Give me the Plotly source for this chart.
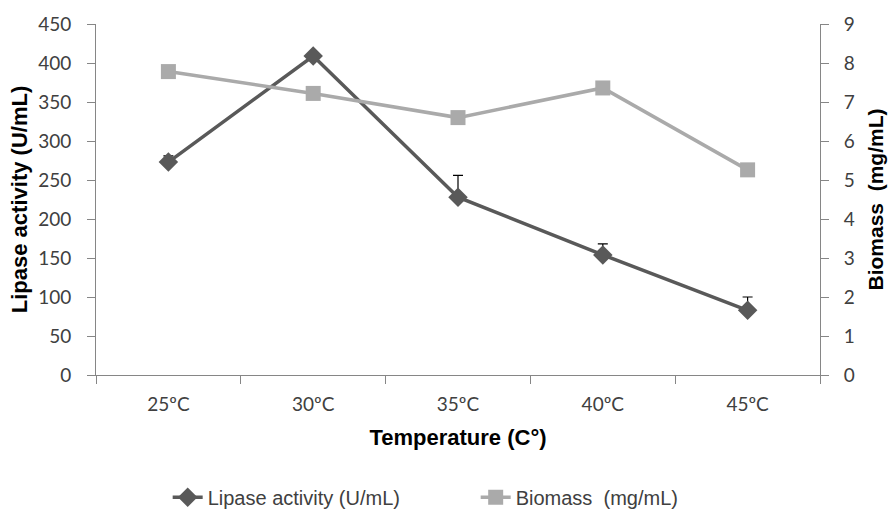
import plotly.graph_objects as go

categories = ["25ºC", "30ºC", "35ºC", "40ºC", "45ºC"]
lipase = [273, 409, 228, 154, 83]
lipase_err = [8, 4, 28, 14, 17]
biomass = [7.78, 7.22, 6.6, 7.36, 5.26]

fig = go.Figure()
fig.add_trace(go.Scatter(
    x=categories, y=biomass, name="Biomass  (mg/mL)", yaxis="y2",
    mode="lines+markers",
    line=dict(color="#aaaaaa", width=3.5),
    marker=dict(symbol="square", size=15, color="#aaaaaa"),
))
fig.add_trace(go.Scatter(
    x=categories, y=lipase, name="Lipase activity (U/mL)",
    mode="lines+markers",
    line=dict(color="#595959", width=3.5),
    marker=dict(symbol="diamond", size=15, color="#595959"),
    error_y=dict(type="data", array=lipase_err, arrayminus=[0]*5,
                 symmetric=False, color="#000000", thickness=1.2, width=5),
))

tickfont = dict(family="Lato, Open Sans, sans-serif", size=19, color="#404040")
ytitlefont = dict(family="Liberation Sans, Arial, sans-serif", size=22, color="#000000")
y2titlefont = dict(family="Liberation Sans, Arial, sans-serif", size=21, color="#000000")
xtitlefont = dict(family="Liberation Sans, Arial, sans-serif", size=22, color="#000000")

fig.update_layout(
    width=888, height=509,
    margin=dict(l=96, r=68, t=24, b=134, autoexpand=False),
    paper_bgcolor="white", plot_bgcolor="white",
    showlegend=True,
    legend=dict(orientation="h", x=0.099, xanchor="left", y=-0.348, yanchor="middle",
                font=dict(family="Liberation Sans, Arial, sans-serif", size=20, color="#404040"),
                traceorder="reversed", entrywidth=263, entrywidthmode="pixels"),
    xaxis=dict(
        type="category", showgrid=False, showline=True, linecolor="#868686", linewidth=1,
        ticks="outside", tickson="boundaries", ticklen=8, tickcolor="#868686",
        tickfont=tickfont, ticklabelstandoff=12, automargin=False,
        title=dict(text="<b>Temperature (C°)</b>", font=xtitlefont, standoff=15),
        range=[-0.5, 4.5],
    ),
    yaxis=dict(
        range=[0, 450], dtick=50, showgrid=False, showline=True, linecolor="#868686",
        ticks="outside", ticklen=8, tickcolor="#868686", tickfont=tickfont,
        ticklabelstandoff=12, automargin=False,
        title=dict(text="<b>Lipase activity (U/mL)</b>", font=ytitlefont, standoff=4),
        zeroline=False,
    ),
    yaxis2=dict(
        range=[0, 9], dtick=1, overlaying="y", side="right", showgrid=False,
        showline=True, linecolor="#868686", ticks="outside", ticklen=8,
        tickcolor="#868686", tickfont=tickfont, ticklabelstandoff=11, automargin=False,
        title=dict(text="<b>Biomass  (mg/mL)</b>", font=y2titlefont, standoff=14),
        zeroline=False,
    ),
)

fig.write_html(
    "out.html",
    config={"displayModeBar": False},
    post_script="document.body.style.margin='0';document.body.style.overflow='hidden';",
)
